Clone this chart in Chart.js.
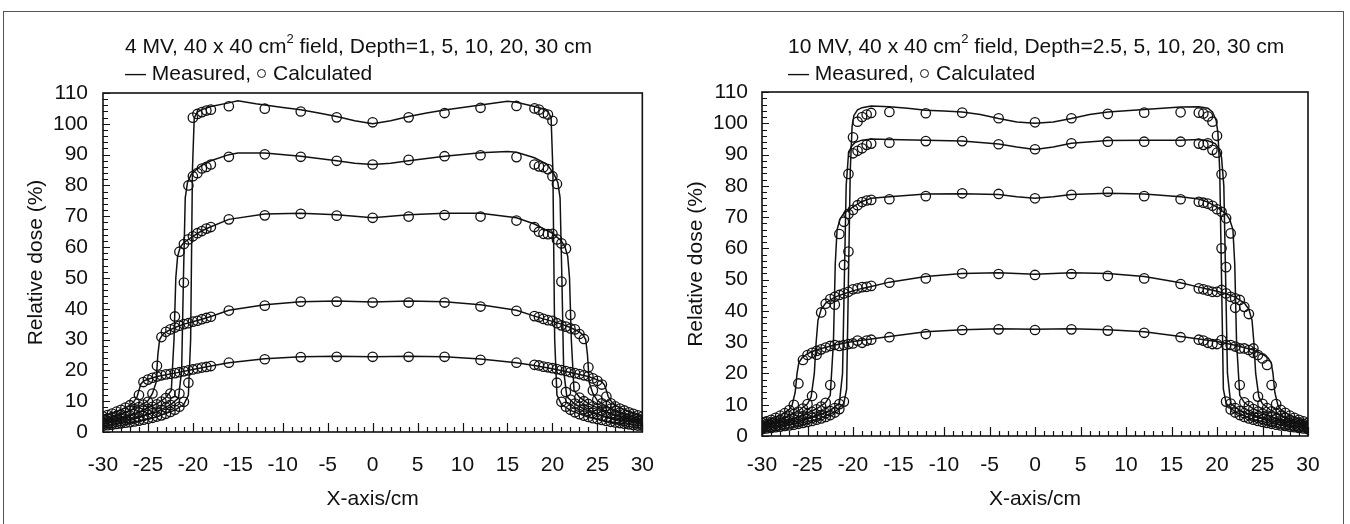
<!DOCTYPE html>
<html>
<head>
<meta charset="utf-8">
<script src="https://cdn.jsdelivr.net/npm/chart.js@4.4.1/dist/chart.umd.min.js"></script>
<style>
  html, body { margin: 0; padding: 0; background: #fff; }
  body { width: 1350px; height: 524px; position: relative; overflow: hidden;
         font-family: 'Liberation Sans', Arial, sans-serif; color: #111; }
  #frame { position: absolute; left: 3px; top: 11px; width: 1341px; height: 600px;
           border: 1.5px solid #555; box-sizing: border-box; }
  .panel { position: absolute; top: 0; width: 675px; height: 524px; }
  .panel canvas { position: absolute; left: 0; top: 0; }
  .head { position: absolute; font-size: 21px; line-height: 26px; white-space: nowrap; }
  .head sup { font-size: 13px; line-height: 0; position: relative; top: -2px; vertical-align: super; }
  .mark { display: inline-block; width: 7px; height: 7px; border: 1.5px solid #111;
          border-radius: 50%; vertical-align: middle; margin: 0 7px 0 6px; position: relative; top: -1px; }
</style>
</head>
<body>
<div id="frame"></div>

<div class="panel" style="left:0">
  <canvas id="c4" width="675" height="524"></canvas>
</div>
<div class="panel" style="left:675px">
  <canvas id="c10" width="675" height="524"></canvas>
</div>

<div class="head" style="left:125px; top:33px">4 MV, 40 x 40 cm<sup>2</sup> field, Depth=1, 5, 10, 20, 30 cm</div>
<div class="head" style="left:125px; top:60px">— Measured,<span class="mark"></span>Calculated</div>
<div class="head" style="left:788px; top:33px">10 MV, 40 x 40 cm<sup>2</sup> field, Depth=2.5, 5, 10, 20, 30 cm</div>
<div class="head" style="left:788px; top:60px">— Measured,<span class="mark"></span>Calculated</div>

<script>
// ---------- Off-axis positions of the calculated points (cm), shared by both beams ----------
const calcX = [-30,-29.5,-29,-28.5,-28,-27.5,-27,-26.5,-26,-25.5,-25,-24.5,-24,-23.5,-23,-22.5,-22,-21.5,-21,-20.5,-20,-19.5,-19,-18.5,-18,
               -16,-12,-8,-4,0,4,8,12,16,
               18,18.5,19,19.5,20,20.5,21,21.5,22,22.5,23,23.5,24,24.5,25,25.5,26,26.5,27,27.5,28,28.5,29,29.5,30];

// ---------- 4 MV calculated relative dose (%) ----------
const calc4_d1  = [2.0,2.2,2.4,2.6,2.8,3.0,3.2,3.4,3.7,4.0, 4.3,4.6,5.0,5.4,5.9,6.5,7.2,8.2,9.8,16, 102,103.2,103.8,104.3,104.6,
                   105.7,104.9,104.0,102.1,100.5,102.1,103.5,105.2,105.8,
                   105.0,104.6,103.5,103.0,101.0, 16,9.8,8.2,7.2,6.4, 5.8,5.3,4.9,4.5,4.2, 3.9,3.6,3.3,3.1,2.9, 2.7,2.5,2.3,2.1,2.0];
const calc4_d5  = [2.6,2.8,3.0,3.3,3.5,3.8,4.1,4.4,4.8,5.2, 5.6,6.1,6.6,7.2,7.9,8.8,10.0,12.5,48.5,80, 83,84,85.5,86,86.8,
                   89.3,90.1,89.3,88.0,86.8,88.3,89.5,89.8,89.2,
                   86.8,86.2,85.9,85.3,83, 80.5,48.8,13,10.5,9.2, 8.2,7.4,6.8,6.2,5.7, 5.2,4.8,4.4,4.1,3.8, 3.5,3.2,3.0,2.8,2.6];
const calc4_d10 = [3.2,3.5,3.8,4.1,4.5,4.9,5.3,5.8,6.3,6.9, 7.5,8.2,9.0,9.9,11.0,12.5,37.5,58.5,61,62.5, 63.5,64.5,65.2,66,66.5,
                   69,70.3,70.8,70.2,69.5,69.9,70.4,69.9,68.6,
                   66.5,65,64.3,64.2,64.3, 62.5,61.2,59.5,38,14.7, 11.2,10,9.1,8.3,7.6, 7.0,6.4,5.9,5.4,5.0, 4.6,4.2,3.9,3.6,3.3];
const calc4_d20 = [4.0,4.4,4.8,5.2,5.7,6.2,6.8,7.4,8.1,8.9, 9.8,12.5,21.5,30.8,32.5,33.3,33.9,34.5,35,35.3, 35.8,36.1,36.6,37,37.4,
                   39.4,41,42.3,42.3,42,42,42,40.7,39.3,
                   37.6,37.3,36.7,36.3,36.1, 35.3,34.6,34.2,33.6,33.3, 31.8,30.2,21,13.5,10.5, 9.3,8.4,7.6,6.9,6.3, 5.8,5.3,4.8,4.4,4.0];
const calc4_d30 = [5.0,5.5,6.0,6.6,7.2,7.9,8.7,9.8,12,16.2, 17,17.6,18,18.4,18.7,18.9,19.1,19.4,19.7,20, 20.3,20.6,20.9,21.1,21.4,
                   22.5,23.6,24.3,24.4,24.4,24.4,24.4,23.4,22.5,
                   21.8,21.6,21.2,21,20.7, 20.4,20.1,19.8,19.4,19.1, 18.8,18.4,18.1,17.4,16.6, 15.4,11.5,9.3,8.3,7.6, 7.0,6.4,5.9,5.4,5.0];

// ---------- 4 MV measured profiles ----------
const meas4_d1x  = [-30,-28,-26,-24,-22,-21,-20.5,-20.25,-20.05,-19.85,-19.5,-19,-18,
                    -16,-15,-13,-10,-8,-6,-4,-2,0,2,4,6,8,10,13,15,16,
                    18,19,19.5,19.85,20.05,20.25,20.5,21,22,24,26,28,30];
const meas4_d1y  = [2.1,2.8,3.6,4.9,7.1,9.0,12,30,85,102,103.8,104.6,105.6,
                    106.8,107.5,106.5,105.3,104.6,103.5,102.4,101,100,101,102.4,103.5,104.5,105.3,106.5,107.3,107,
                    105.6,104.8,104,102,85,30,12,9,7,4.8,3.5,2.7,2.0];
const meas4_d5x  = [-30,-28,-26,-24,-22.5,-21.6,-21.25,-21.05,-20.85,-20.6,-20.2,-19.5,-19,-18,
                    -16,-15,-12,-8,-4,-2,0,2,4,8,12,15,16,
                    18,19,19.5,20.2,20.6,20.85,21.05,21.25,21.6,22.5,24,26,28,30];
const meas4_d5y  = [2.7,3.5,4.7,6.6,8.8,11,20,50,76,81,83.5,85.5,86.5,88,
                    90,90.5,90.5,89.5,88,87.2,86.8,87.2,88,89.5,90.6,91,90.8,
                    89,87.5,86.5,83.5,81,76,50,20,11.5,9,6.8,4.8,3.6,2.7];
const meas4_d10x = [-30,-28,-26,-24,-23,-22.4,-22.1,-21.9,-21.7,-21.4,-21,-20,-19,-18,
                    -16,-12,-8,-4,-2,0,2,4,8,12,16,
                    18,19,20,21,21.4,21.7,21.9,22.1,22.4,23,24,26,28,30];
const meas4_d10y = [3.3,4.6,6.4,9.1,11.2,13.5,30,50,57,60,61.5,63.5,65.3,66.6,
                    69,70.7,71,70.5,70,69.5,70,70.5,71,71,69.5,
                    67.5,66,64.5,62,60,57,50,30,13.5,11.3,9.2,6.5,4.7,3.4];
const meas4_d20x = [-30,-28,-26,-25,-24.5,-24.1,-23.9,-23.7,-23.4,-23,-22,-21,-20,-19,-18,
                    -16,-12,-8,-4,0,4,8,12,16,
                    18,19,20,21,22,23,23.4,23.7,23.9,24.1,24.5,25,26,28,30];
const meas4_d20y = [4.1,5.8,8.3,10.1,12.5,16,25,30,31.5,32.5,33.9,35,35.8,36.6,37.5,
                    39.5,41.3,42.3,42.5,42.2,42.5,42.3,41.3,39.5,
                    37.6,36.7,35.9,35,33.9,32.5,31.5,30,25,16,12.5,10.2,8.3,5.8,4.1];
const meas4_d30x = [-30,-29,-28,-27,-26.6,-26.2,-26,-25.8,-25.5,-25,-24,-22,-20,-18,
                    -16,-12,-8,-4,0,4,8,12,16,
                    18,20,22,24,25,25.5,25.8,26,26.2,26.6,27,28,29,30];
const meas4_d30y = [5,6,7.2,8.7,9.7,11.5,13.5,15.5,16.5,17.1,18,19.1,20.3,21.4,
                    22.5,23.8,24.4,24.6,24.4,24.6,24.4,23.7,22.5,
                    21.6,20.5,19.3,18,16.9,16.3,15.2,13.5,11.5,9.7,8.7,7.2,6,5];

// ---------- 10 MV calculated relative dose (%) ----------
const calc10_d25 = [2.2,2.4,2.6,2.8,3.0,3.2,3.4,3.6,3.9,4.2, 4.5,4.8,5.2,5.6,6.1,6.7,7.5,8.6,11,59, 95.5,100.5,102,102.8,103.3,
                    103.6,103.2,103.4,101.6,100.3,101.6,103,103.4,103.5,
                    103.4,103.1,102.2,100.5,96, 60,11,8.5,7.5,6.7, 6.1,5.6,5.2,4.8,4.5, 4.2,3.9,3.6,3.4,3.2, 3.0,2.8,2.6,2.4,2.2];
const calc10_d5  = [2.6,2.8,3.0,3.2,3.5,3.7,4.0,4.3,4.6,5.0, 5.4,5.8,6.2,6.7,7.3,8.0,8.9,10.2,54.7,83.8, 90.4,91.2,92,93.1,93.5,
                    93.8,94.3,94.3,93.3,91.7,93.6,94.1,94.1,94.1,
                    93.5,93.1,93.6,91.5,90.6, 83.7,54,10.4,8.9,8.0, 7.3,6.7,6.2,5.8,5.4, 5.0,4.6,4.3,4.0,3.7, 3.5,3.2,3.0,2.8,2.6];
const calc10_d10 = [3.0,3.3,3.6,3.9,4.2,4.6,5.0,5.4,5.9,6.4, 7.0,7.7,8.5,9.4,10.6,16.3,42,64.6,68.5,71, 72.3,73.8,74.8,75.3,75.5,
                    75.7,76.7,77.6,77.4,76,77.1,78.1,76.7,75.7,
                    74.9,74.6,74.3,73.6,72.5, 71.7,69.6,64.8,41,16.3, 10.8,9.6,8.6,7.8,7.1, 6.5,6.0,5.5,5.0,4.6, 4.2,3.9,3.6,3.3,3.0];
const calc10_d20 = [3.5,3.9,4.3,4.7,5.2,5.7,6.3,7.0,7.8,8.8, 10.2,12.8,26,39.5,42.3,43.8,44.5,45.1,45.6,46.1, 46.9,47.2,47.6,47.7,48,
                    49,50.4,52,51.8,51.5,51.8,51.2,50.4,48.6,
                    47.2,46.9,46.5,46.1,46.1, 46.7,45.6,44.5,44,43.5, 41.3,39,28,12.6,10.3, 8.9,7.9,7.1,6.4,5.8, 5.2,4.7,4.3,3.9,3.5];
const calc10_d30 = [4.2,4.7,5.2,5.8,6.5,7.3,8.3,10,16.8,24.3, 25.9,26.6,27.2,27.7,28.3,28.8,29.1,28.8,29.1,29.4, 29.6,30.5,29.8,30.5,30.8,
                    31.6,32.6,33.9,34.1,33.9,34.1,33.7,33,31.6,
                    30.8,30.5,29.8,29.4,29.4, 30.7,29.1,29.1,28.6,28, 28,27.5,26.6,25.9,24.8, 22.7,16.3,10.2,8.4,7.4, 6.5,5.8,5.2,4.7,4.2];

// ---------- 10 MV measured profiles ----------
const meas10_d25x = [-30,-28,-26,-24,-22,-21,-20.7,-20.5,-20.3,-20.1,-19.9,-19.5,-19,-18,
                     -16,-14,-12,-10,-8,-6,-4,-2,0,2,4,6,8,10,12,14,16,
                     18,19,19.5,19.9,20.1,20.3,20.5,20.7,21,22,24,26,28,30];
const meas10_d25y = [2.3,3.1,4.0,5.3,7.6,10.5,15,50,85,99,102.5,104.3,105,105.5,
                     105.3,104.8,104.2,103.9,103.6,102.8,101.5,100.4,100,100.4,101.5,102.8,103.6,104,104.4,104.8,105.2,
                     105.3,104.8,103.6,101,97,85,50,15,10.5,7.6,5.3,4.0,3.1,2.3];
const meas10_d5x  = [-30,-28,-26,-24,-22.5,-21.5,-21.15,-20.95,-20.75,-20.5,-20.2,-19.8,-19,-18,
                     -16,-12,-8,-4,-2,0,2,4,8,12,16,
                     18,19,19.8,20.2,20.5,20.75,20.95,21.15,21.5,22.5,24,26,28,30];
const meas10_d5y  = [2.7,3.6,4.7,6.3,8.1,10.5,20,50,80,90,92.5,93.8,94.6,95,
                     94.8,94.6,94.3,93.4,92.4,91.6,92.4,93.6,94.5,94.6,94.6,
                     94.8,94.4,93.5,92,89,80,50,20,10.5,8.1,6.3,4.7,3.6,2.7];
const meas10_d10x = [-30,-28,-26,-24,-23,-22.5,-22.15,-21.95,-21.75,-21.4,-21,-20,-19,-18,
                     -16,-12,-8,-4,-2,0,2,4,8,12,16,
                     18,19,20,21,21.4,21.75,21.95,22.15,22.5,23,24,26,28,30];
const meas10_d10y = [3.1,4.3,6.0,8.7,10.7,13,30,55,66,69.5,71.2,73.3,75,76,
                     76.5,77.4,77.5,77.2,76.5,76,76.5,77.2,77.6,77.4,76.5,
                     75.8,74.8,73.2,71,69.2,66,55,30,13,10.7,8.7,6.0,4.3,3.1];
const meas10_d20x = [-30,-28,-26,-25,-24.6,-24.25,-24.05,-23.85,-23.5,-23,-22,-21,-20,-19,-18,
                     -16,-12,-8,-4,0,4,8,12,16,
                     18,19,20,21,22,23,23.5,23.85,24.05,24.25,24.6,25,26,28,30];
const meas10_d20y = [3.6,5.3,8.0,10.3,12.5,20,30,37,40.5,42.5,44.4,45.5,46.4,47.2,47.8,
                     49.2,51,52,52.2,51.7,52.2,52,51,49,
                     47.6,46.9,46.3,45.5,44.4,42.5,40.5,37,30,20,12.5,10.3,8.0,5.3,3.6];
const meas10_d30x = [-30,-29,-28,-27,-26.7,-26.35,-26.15,-25.95,-25.6,-25,-24,-22,-20,-18,
                     -16,-12,-8,-4,0,4,8,12,16,
                     18,20,22,24,25,25.6,25.95,26.15,26.35,26.7,27,28,29,30];
const meas10_d30y = [4.3,5.3,6.6,8.5,9.8,14,20,23.5,25,26.3,27.6,29.1,30.2,31,
                     31.8,33.3,34,34.3,34.1,34.3,34,33.3,31.8,
                     31,30.2,29,27.5,26.2,25,23.5,20,14,9.8,8.5,6.6,5.3,4.3];

// ---------- Axis tick values ----------
const xTickStep = 5;      // labelled every 5 cm
const yTickStep = 10;     // labelled every 10 %

// ---------- Drawing ----------
const INK = '#111';
const FONT = "'Liberation Sans', Arial, sans-serif";

function pts(xs, ys) { return xs.map((x, i) => ({ x: x, y: ys[i] })); }

function lineSet(xs, ys) {
  return { data: pts(xs, ys), showLine: true, borderColor: INK, borderWidth: 1.5,
           pointRadius: 0, tension: 0, fill: false };
}
function dotSet(xs, ys) {
  return { data: pts(xs, ys), showLine: false, borderColor: INK, borderWidth: 1.3,
           backgroundColor: 'rgba(0,0,0,0)', pointRadius: 4.7, pointHoverRadius: 4.7 };
}

// Plot box plus inward-pointing major/minor tick marks
const axisBox = {
  id: 'axisBox',
  afterDraw(chart) {
    const { ctx, chartArea: a, scales: { x, y } } = chart;
    ctx.save();
    ctx.strokeStyle = INK;
    ctx.lineWidth = 1.6;
    ctx.strokeRect(a.left, a.top, a.right - a.left, a.bottom - a.top);
    ctx.lineWidth = 1.2;
    ctx.beginPath();
    for (let v = x.min; v <= x.max; v += 1) {
      const px = Math.round(x.getPixelForValue(v)) + 0.5;
      const len = (v % xTickStep === 0) ? 9 : 5;
      ctx.moveTo(px, a.bottom);
      ctx.lineTo(px, a.bottom - len);
    }
    for (let v = y.min; v <= y.max; v += 2) {
      const py = Math.round(y.getPixelForValue(v)) + 0.5;
      const len = (v % yTickStep === 0) ? 7 : 5;
      ctx.moveTo(a.left, py);
      ctx.lineTo(a.left + len, py);
    }
    ctx.stroke();
    ctx.restore();
  }
};

function makeChart(id, measured, calculated, g) {
  const datasets = [];
  measured.forEach(m => datasets.push(lineSet(m[0], m[1])));
  calculated.forEach(c => datasets.push(dotSet(calcX, c)));
  const tickFont = { family: FONT, size: 21 };
  return new Chart(document.getElementById(id), {
    type: 'scatter',
    data: { datasets },
    options: {
      responsive: false,
      animation: false,
      events: [],
      layout: { padding: { left: 0, top: g.top, right: g.right, bottom: g.bottom } },
      plugins: { legend: { display: false }, tooltip: { enabled: false } },
      scales: {
        x: {
          type: 'linear', min: -30, max: 30,
          grid: { display: false, drawTicks: false },
          border: { display: false },
          ticks: { stepSize: xTickStep, color: INK, font: tickFont, padding: g.xTickPad,
                   maxRotation: 0, autoSkip: false },
          title: { display: true, text: 'X-axis/cm', color: INK, font: tickFont,
                   padding: { top: 0, bottom: g.xTitlePad } },
          afterFit: s => { s.height = g.xHeight; }
        },
        y: {
          type: 'linear', min: 0, max: 110,
          grid: { display: false, drawTicks: false },
          border: { display: false },
          ticks: { stepSize: yTickStep, color: INK, font: tickFont, padding: g.yTickPad },
          title: { display: true, text: 'Relative dose (%)', color: INK, font: tickFont,
                   padding: { top: g.yTitlePad, bottom: 0 } },
          afterFit: s => { s.width = g.yWidth; }
        }
      }
    },
    plugins: [axisBox]
  });
}

makeChart('c4',
  [[meas4_d1x, meas4_d1y], [meas4_d5x, meas4_d5y], [meas4_d10x, meas4_d10y],
   [meas4_d20x, meas4_d20y], [meas4_d30x, meas4_d30y]],
  [calc4_d1, calc4_d5, calc4_d10, calc4_d20, calc4_d30],
  { top: 93, right: 32, bottom: 10, xHeight: 82, yWidth: 103,
    xTickPad: 21, yTickPad: 15, xTitlePad: 2, yTitlePad: 24 });

makeChart('c10',
  [[meas10_d25x, meas10_d25y], [meas10_d5x, meas10_d5y], [meas10_d10x, meas10_d10y],
   [meas10_d20x, meas10_d20y], [meas10_d30x, meas10_d30y]],
  [calc10_d25, calc10_d5, calc10_d10, calc10_d20, calc10_d30],
  { top: 92, right: 42, bottom: 10, xHeight: 78, yWidth: 87,
    xTickPad: 17, yTickPad: 14, xTitlePad: 2, yTitlePad: 9 });
</script>
</body>
</html>
